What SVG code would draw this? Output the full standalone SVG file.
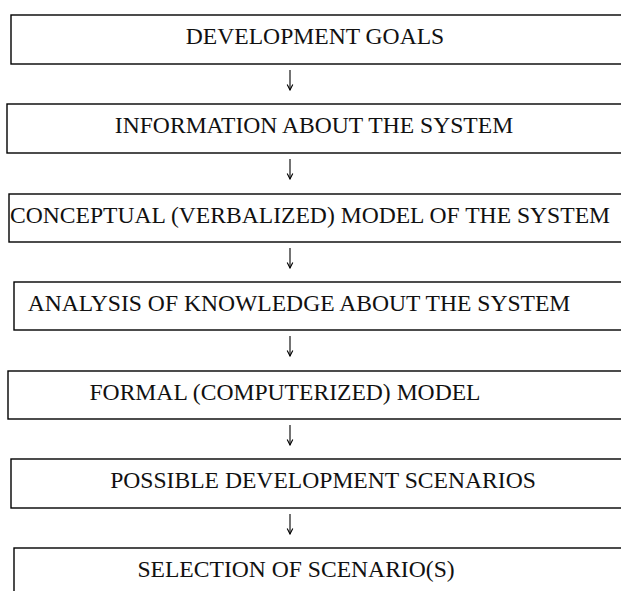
<svg xmlns="http://www.w3.org/2000/svg" width="621" height="591" viewBox="0 0 621 591">
<defs>
<style>
.box{fill:#fff;stroke:#000;stroke-width:1.4}
.lbl{font-family:"Liberation Serif","Times New Roman",serif;font-size:23.6px;fill:#111;text-anchor:middle}
.arr{stroke:#000;stroke-width:1.1;fill:none}
</style>
<marker id="ah" markerWidth="8" markerHeight="8" refX="7" refY="4" orient="auto" markerUnits="userSpaceOnUse" viewBox="0 0 8 8">
<path d="M1.5,1.2 L7,4 L1.5,6.8" fill="none" stroke="#000" stroke-width="1.1"/>
</marker>
</defs>
<rect width="621" height="591" fill="#fff"/>
<g id="n1"><rect class="box" x="11" y="15" width="640" height="49"/><text class="lbl" x="315" y="44">DEVELOPMENT GOALS</text></g>
<g id="n2"><rect class="box" x="7" y="104" width="640" height="49"/><text class="lbl" x="314" y="133">INFORMATION ABOUT THE SYSTEM</text></g>
<g id="n3"><rect class="box" x="9" y="194" width="640" height="48"/><text class="lbl" x="310" y="223">CONCEPTUAL (VERBALIZED) MODEL OF THE SYSTEM</text></g>
<g id="n4"><rect class="box" x="14" y="282" width="640" height="48"/><text class="lbl" x="299" y="311">ANALYSIS OF KNOWLEDGE ABOUT THE SYSTEM</text></g>
<g id="n5"><rect class="box" x="8" y="371" width="640" height="48"/><text class="lbl" x="285" y="400">FORMAL (COMPUTERIZED) MODEL</text></g>
<g id="n6"><rect class="box" x="11" y="459" width="640" height="49"/><text class="lbl" x="323" y="488">POSSIBLE DEVELOPMENT SCENARIOS</text></g>
<g id="n7"><rect class="box" x="14" y="548" width="640" height="60"/><text class="lbl" x="296" y="577">SELECTION OF SCENARIO(S)</text></g>
<g id="connectors">
<line class="arr" x1="290" y1="70" x2="290" y2="90" marker-end="url(#ah)"/>
<line class="arr" x1="290" y1="159" x2="290" y2="179" marker-end="url(#ah)"/>
<line class="arr" x1="290" y1="248" x2="290" y2="268" marker-end="url(#ah)"/>
<line class="arr" x1="290" y1="336" x2="290" y2="356" marker-end="url(#ah)"/>
<line class="arr" x1="290" y1="425" x2="290" y2="445" marker-end="url(#ah)"/>
<line class="arr" x1="290" y1="514" x2="290" y2="534" marker-end="url(#ah)"/>
</g>
</svg>
